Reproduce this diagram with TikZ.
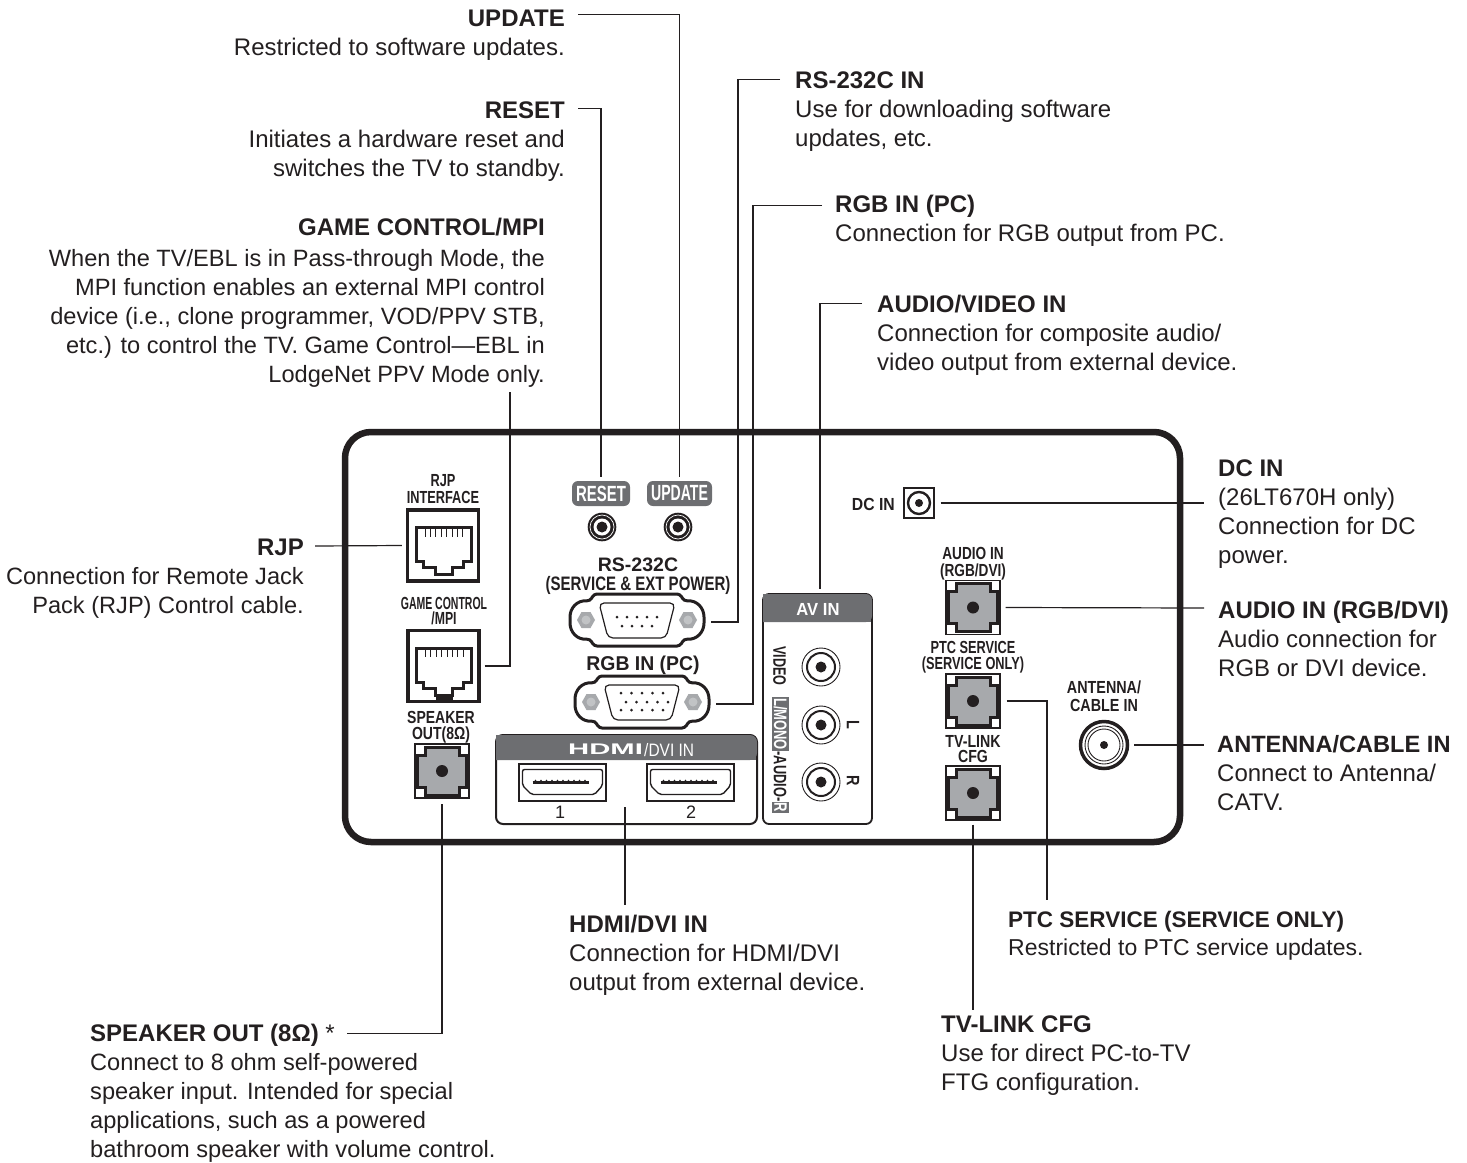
\documentclass[tikz,border=0pt]{standalone}
\usepackage{fontspec}
\setmainfont{Liberation Sans}
\definecolor{inkblack}{HTML}{231F20}
\definecolor{bandgrey}{HTML}{6D6E71}
\definecolor{portgrey}{HTML}{A7A9AC}
\newcommand{\cond}[2]{\scalebox{#1}[1]{#2}}
\tikzset{
    headtxt/.style={font=\fontsize{24}{29}\selectfont\bfseries, inner sep=0pt, text=inkblack},
    headR/.style={headtxt, anchor=base east},
    headL/.style={headtxt, anchor=base west},
    bodyR/.style={font=\fontsize{24}{29}\selectfont, inner sep=0pt, text=inkblack, align=right, anchor=north east, yshift=-8.7pt},
    bodyL/.style={font=\fontsize{24}{29}\selectfont, inner sep=0pt, text=inkblack, align=left, anchor=north west, yshift=-8.7pt},
    slimfont/.style={font=\fontsize{23.6}{29}\selectfont},
    panellbl/.style={font=\fontsize{17.5}{18}\selectfont\bfseries, inner sep=0pt, text=inkblack, anchor=base},
    rotlbl/.style={font=\fontsize{18}{18}\selectfont\bfseries, inner sep=0pt, text=inkblack, rotate=-90},
    wire/.style={draw=inkblack, line width=1.2pt},
    spot/.style={inner sep=0pt, minimum width=#1, minimum height=#1},
    squarebox/.style={draw=inkblack, line width=3.4pt, fill=white, inner sep=0pt, minimum size=71pt},
    thinbox/.style={draw=inkblack, line width=1.4pt, fill=white, inner sep=0pt, minimum size=54pt},
    hdmibox/.style={draw=inkblack, line width=1.6pt, fill=white, inner sep=0pt, minimum width=87pt, minimum height=37pt},
    tagbox/.style={fill=bandgrey, rounded corners=6pt, inner sep=0pt, minimum height=25pt, text=white, font=\fontsize{22}{22}\selectfont\bfseries},
    rjjack/.pic={
        \draw[inkblack, line width=3pt, line join=miter]
            (-27,-18) -- (28,-18) -- (28,16) -- (20,16) -- (20,22) -- (9,22) -- (9,29)
            -- (-8,29) -- (-8,22) -- (-20,22) -- (-20,16) -- (-27,16) -- cycle;
        \foreach \i in {0,...,7}
            \draw[inkblack, line width=1pt] (-18+\i*5.4,-17) -- (-18+\i*5.4,-9);
    },
    coaxjack/.pic={
        \draw[inkblack, line width=3pt, fill=portgrey]
            (-17,-24) -- (17,-24) -- (17,-16) -- (24.5,-16) -- (24.5,16) -- (17,16) -- (17,24)
            -- (-17,24) -- (-17,16) -- (-24.5,16) -- (-24.5,-16) -- (-17,-16) -- cycle;
        \fill[inkblack] (0,0) circle (6);
    },
    rcajack/.pic={
        \draw[inkblack, line width=0.9pt] (0,0) circle (19);
        \draw[inkblack, line width=2pt] (0,0) circle (14);
        \fill[inkblack] (0,0) circle (5.5);
    },
    tipjack/.pic={
        \fill[inkblack] (0,0) circle (14.3);
        \draw[white, line width=0.7pt] (0,0) circle (12);
        \fill[white] (0,0) circle (8.5);
        \fill[inkblack] (0,0) circle (5.5);
    },
    hexscrew/.pic={
        \fill[portgrey] (9,0) -- (4.5,8) -- (-4.5,8) -- (-9,0) -- (-4.5,-8) -- (4.5,-8) -- cycle;
        \fill[portgrey!70] (0,0) circle (4.5);
    },
    dsubport/.pic={
        \draw[inkblack, line width=3pt, rounded corners=3pt, fill=white]
            (-43,-26) -- (43,-26) -- (47,-19)
            .. controls (60,-20) and (67,-12) .. (67,0)
            .. controls (67,12) and (60,20) .. (47,19)
            -- (43,26) -- (-43,26) -- (-47,19)
            .. controls (-60,20) and (-67,12) .. (-67,0)
            .. controls (-67,-12) and (-60,-20) .. (-47,-19) -- cycle;
        \draw[inkblack, line width=1.2pt, rounded corners=5pt]
            (-38,-17) -- (38,-17) -- (29,18) -- (-29,18) -- cycle;
        \pic at (-51,0) {hexscrew};
        \pic at (51,0) {hexscrew};
    },
    hdmiport/.pic={
        \draw[inkblack, line width=1.4pt, rounded corners=2pt]
            (-40,-13) -- (40,-13) -- (40,3) -- (32,12) -- (-31,12) -- (-40,3) -- cycle;
        \draw[inkblack, line width=2.3pt] (-30,0) -- (26,0);
        \foreach \i in {0,...,9}
            \fill[inkblack] (-27+\i*5.5,-2) circle (0.8);
    }
}
\begin{document}
\begin{tikzpicture}[x=1pt, y=-1pt]
    \useasboundingbox (0,0) rectangle (1467,1162);
    % back panel
    \draw[inkblack, line width=6.5pt, rounded corners=26pt] (345,432) rectangle (1180,842);

    % panel jacks, left column
    \node[panellbl] (rjpName) at (443,486) {\cond{.73}{RJP}};
    \node[panellbl] (rjpNameB) at (443,503) {\cond{.73}{INTERFACE}};
    \node[squarebox] (rjpPort) at (443,545.5) {};
    \pic at (443,545.5) {rjjack};
    \node[panellbl] (gameName) at (444,609) {\cond{.6}{GAME CONTROL}};
    \node[panellbl] (gameNameB) at (444,624) {\cond{.7}{/MPI}};
    \node[squarebox] (gamePort) at (443.5,666) {};
    \pic at (443.5,666) {rjjack};
    \fill[inkblack] (435.5,695) rectangle (452.5,701);
    \node[panellbl] (spkName) at (441,723) {\cond{.8}{SPEAKER}};
    \node[panellbl] (spkNameB) at (441,739) {\cond{.8}{OUT(8Ω)}};
    \node[thinbox] (spkPort) at (442,771) {};
    \pic at (442,771) {coaxjack};

    % reset and update
    \node[tagbox, minimum width=58pt] (resetTag) at (601,493.5) {\cond{.68}{RESET}};
    \node[tagbox, minimum width=65pt] (updateTag) at (679.5,493.5) {\cond{.64}{UPDATE}};
    \pic at (602,527) {tipjack};
    \pic at (678,527) {tipjack};

    % serial and vga
    \node[panellbl, font=\fontsize{19.5}{20}\selectfont\bfseries] (rsName) at (638,571) {RS-232C};
    \node[panellbl, font=\fontsize{19.5}{20}\selectfont\bfseries] (rsNameB) at (638,590) {\cond{.77}{(SERVICE \& EXT POWER)}};
    \pic at (637,620) {dsubport};
    \node[spot=52pt, minimum width=134pt] (rsPort) at (637,620) {};
    \foreach \i in {0,...,4}
        \fill[inkblack] (617+\i*10,617) circle (1.5);
    \foreach \i in {0,...,3}
        \fill[inkblack] (622+\i*10,626) circle (1.5);
    \node[panellbl, font=\fontsize{20}{20}\selectfont\bfseries] (rgbName) at (643,670) {\cond{.97}{RGB IN (PC)}};
    \pic at (642,702) {dsubport};
    \node[spot=52pt, minimum width=134pt] (rgbPort) at (642,702) {};
    \foreach \i in {0,...,4} {
        \fill[inkblack] (621+\i*10.5,693) circle (1.5);
        \fill[inkblack] (626+\i*10.5,702) circle (1.5);
        \fill[inkblack] (621+\i*10.5,710) circle (1.5);
    }

    % hdmi block
    \draw[inkblack, line width=2pt, rounded corners=7pt] (496,735) rectangle (757,824);
    \fill[bandgrey, rounded corners=7pt] (496,735) -- (757,735) -- (757,760) [sharp corners] -- (496,760) -- cycle;
    \fill[bandgrey] (497,745) rectangle (756,760);
    \node[panellbl, anchor=base west, text=white, font=\fontsize{15.4}{16}\selectfont\bfseries] (hdmiLogo) at (568,754) {\cond{1.9}{HDMI}};
    \node[panellbl, anchor=base west, text=white, font=\fontsize{18}{18}\selectfont] (dviName) at (644,756) {\cond{.86}{/DVI IN}};
    \node[hdmibox] (hdmiOne) at (562.5,782.5) {};
    \pic at (562.5,782.5) {hdmiport};
    \node[hdmibox] (hdmiTwo) at (690.5,782.5) {};
    \pic at (690.5,782.5) {hdmiport};
    \node[panellbl, font=\fontsize{18}{18}\selectfont] (hdmiNumOne) at (560,818) {1};
    \node[panellbl, font=\fontsize{18}{18}\selectfont] (hdmiNumTwo) at (691,818) {2};
    \coordinate (hdmiPort) at (625,807);

    % av block
    \draw[inkblack, line width=1.8pt, fill=white, rounded corners=6pt] (763,594) rectangle (872,824);
    \fill[bandgrey, rounded corners=6pt] (763,594) -- (872,594) -- (872,622) [sharp corners] -- (763,622) -- cycle;
    \fill[bandgrey] (764,604) rectangle (871,622);
    \node[panellbl, text=white] (avName) at (818,615) {\cond{.95}{AV IN}};
    \coordinate (avPort) at (820,589);
    \foreach \jy in {667,725,782}
        \pic at (821,\jy) {rcajack};
    \node[rotlbl] (videoName) at (779.5,666) {\cond{.7}{VIDEO}};
    \node[rotlbl, fill=bandgrey, text=white, minimum width=54pt, minimum height=17pt] (monoName) at (780.5,724) {\cond{.72}{L/MONO}};
    \node[rotlbl] (audioName) at (780,776.5) {\cond{.71}{-AUDIO-}};
    \node[rotlbl, fill=bandgrey, text=white, minimum width=11pt, minimum height=17pt] (rightName) at (780.5,807.5) {\cond{.72}{R}};
    \node[rotlbl] (lName) at (853,725) {\cond{.8}{L}};
    \node[rotlbl] (rName) at (853,781) {\cond{.8}{R}};

    % right part of the panel
    \node[panellbl, anchor=base east] (dcName) at (895,510) {\cond{.9}{DC IN}};
    \node[draw=inkblack, line width=1.4pt, spot=30pt] (dcPort) at (919,503) {};
    \draw[inkblack, line width=2.4pt] (919,503) circle (11);
    \fill[inkblack] (919,503) circle (4);
    \node[panellbl] (audioInName) at (973,559) {\cond{.78}{AUDIO IN}};
    \node[panellbl] (audioInNameB) at (973,576) {\cond{.78}{(RGB/DVI)}};
    \node[thinbox] (audioInPort) at (973,607.5) {};
    \pic at (973,607.5) {coaxjack};
    \node[panellbl] (ptcName) at (973,653) {\cond{.73}{PTC SERVICE}};
    \node[panellbl] (ptcNameB) at (973,669) {\cond{.73}{(SERVICE ONLY)}};
    \node[thinbox] (ptcPort) at (973,701) {};
    \pic at (973,701) {coaxjack};
    \node[panellbl] (linkName) at (973,747) {\cond{.81}{TV-LINK}};
    \node[panellbl] (linkNameB) at (973,762) {\cond{.81}{CFG}};
    \node[thinbox] (linkPort) at (973,793) {};
    \pic at (973,793) {coaxjack};
    \node[panellbl] (antName) at (1104,693) {\cond{.82}{ANTENNA/}};
    \node[panellbl] (antNameB) at (1104,711) {\cond{.82}{CABLE IN}};
    \node[spot=50pt] (antPort) at (1104,745) {};
    \draw[inkblack, line width=3.5pt] (1104,745) circle (23.5);
    \draw[inkblack, line width=0.9pt] (1104,745) circle (19);
    \draw[inkblack, line width=0.9pt] (1104,745) circle (16);
    \fill[inkblack] (1104,745) circle (4);

    % callouts, left side
    \node[headR] (updateHead) at (565,26) {UPDATE};
    \node[bodyR] (updateText) at (updateHead.base east) {\strut Restricted to software updates.};
    \node[headR] (resetHead) at (565,118) {RESET};
    \node[bodyR] (resetText) at (resetHead.base east) {\strut Initiates a hardware reset and\\switches the TV to standby.};
    \node[headR] (gameHead) at (545,235) {GAME CONTROL/MPI};
    \node[bodyR, slimfont, yshift=-2pt] (gameText) at (gameHead.base east) {\strut When the TV/EBL is in Pass-through Mode, the\\MPI function enables an external MPI control\\device (i.e., clone programmer, VOD/PPV STB,\\etc.) to control the TV. Game Control—EBL in\\LodgeNet PPV Mode only.};
    \node[headR] (rjpHead) at (304,555) {RJP};
    \node[bodyR, slimfont] (rjpText) at (rjpHead.base east) {\strut Connection for Remote Jack\\Pack (RJP) Control cable.};
    \node[headL] (spkHead) at (90,1041) {SPEAKER OUT (8Ω) \mdseries *};
    \node[bodyL, slimfont] (spkText) at (spkHead.base west) {\strut Connect to 8 ohm self-powered\\speaker input. Intended for special\\applications, such as a powered\\bathroom speaker with volume control.};

    % callouts, top right
    \node[headL] (rsHead) at (795,88) {RS-232C IN};
    \node[bodyL] (rsText) at (rsHead.base west) {\strut Use for downloading software\\updates, etc.};
    \node[headL] (rgbHead) at (835,212) {RGB IN (PC)};
    \node[bodyL] (rgbText) at (rgbHead.base west) {\strut Connection for RGB output from PC.};
    \node[headL] (avHead) at (877,312) {AUDIO/VIDEO IN};
    \node[bodyL] (avText) at (avHead.base west) {\strut Connection for composite audio/\\video output from external device.};

    % callouts, right side
    \node[headL] (dcHead) at (1218,476) {DC IN};
    \node[bodyL] (dcText) at (dcHead.base west) {\strut (26LT670H only)\\Connection for DC\\power.};
    \node[headL] (audioInHead) at (1218,618) {AUDIO IN (RGB/DVI)};
    \node[bodyL] (audioInText) at (audioInHead.base west) {\strut Audio connection for\\RGB or DVI device.};
    \node[headL, font=\fontsize{23.6}{29}\selectfont\bfseries] (antHead) at (1217,752) {ANTENNA/CABLE IN};
    \node[bodyL] (antText) at (antHead.base west) {\strut Connect to Antenna/\\CATV.};

    % callouts, bottom
    \node[headL] (hdmiHead) at (569,932) {HDMI/DVI IN};
    \node[bodyL] (hdmiText) at (hdmiHead.base west) {\strut Connection for HDMI/DVI\\output from external device.};
    \node[headL, font=\fontsize{22.5}{29}\selectfont\bfseries] (ptcHead) at (1008,927) {PTC SERVICE (SERVICE ONLY)};
    \node[bodyL, font=\fontsize{23}{29}\selectfont, yshift=1pt] (ptcText) at (ptcHead.base west) {\strut Restricted to PTC service updates.};
    \node[headL] (linkHead) at (941,1032) {TV-LINK CFG};
    \node[bodyL] (linkText) at (linkHead.base west) {\strut Use for direct PC-to-TV\\FTG configuration.};

    % connector ends
    \coordinate (dcEnd) at (1204,503);
    \coordinate (audioInEnd) at (1204,608);
    \coordinate (antEnd) at (1204,745);
    \coordinate (rjpEnd) at (315,546);
    \coordinate (ptcEnd) at (1047,900);
    \coordinate (linkEnd) at (973,1010);
    \coordinate (hdmiEnd) at (625,905);

    % connectors
    \draw[wire] ([shift={(13pt,3pt)}]updateHead.east) -| ([yshift=4pt]updateTag.north);
    \draw[wire] ([shift={(13pt,1pt)}]resetHead.east) -| ([yshift=4pt]resetTag.north);
    \draw[wire] ([xshift=4pt]gamePort.east) -| (510,392);
    \draw[wire] (rjpEnd) -- ([xshift=-4pt]rjpPort.west);
    \draw[wire] ([shift={(12pt,1pt)}]spkHead.east) -| ([yshift=-5pt]spkPort.south);
    \draw[wire] ([xshift=-15pt]rsHead.west) -| (738,622) -- ([shift={(7pt,-2pt)}]rsPort.east);
    \draw[wire] ([xshift=-13pt]rgbHead.west) -| (753,704) -- ([shift={(7pt,-2pt)}]rgbPort.east);
    \draw[wire] ([xshift=-15pt]avHead.west) -| (avPort);
    \draw[wire] ([xshift=6pt]dcPort.east) -- (dcEnd);
    \draw[wire] ([xshift=5pt]audioInPort.east) -- (audioInEnd);
    \draw[wire] ([xshift=5pt]antPort.east) -- (antEnd);
    \draw[wire] ([xshift=6pt]ptcPort.east) -| (ptcEnd);
    \draw[wire] ([yshift=-4pt]linkPort.south) -- (linkEnd);
    \draw[wire] (hdmiPort) -- (hdmiEnd);
\end{tikzpicture}
\end{document}
